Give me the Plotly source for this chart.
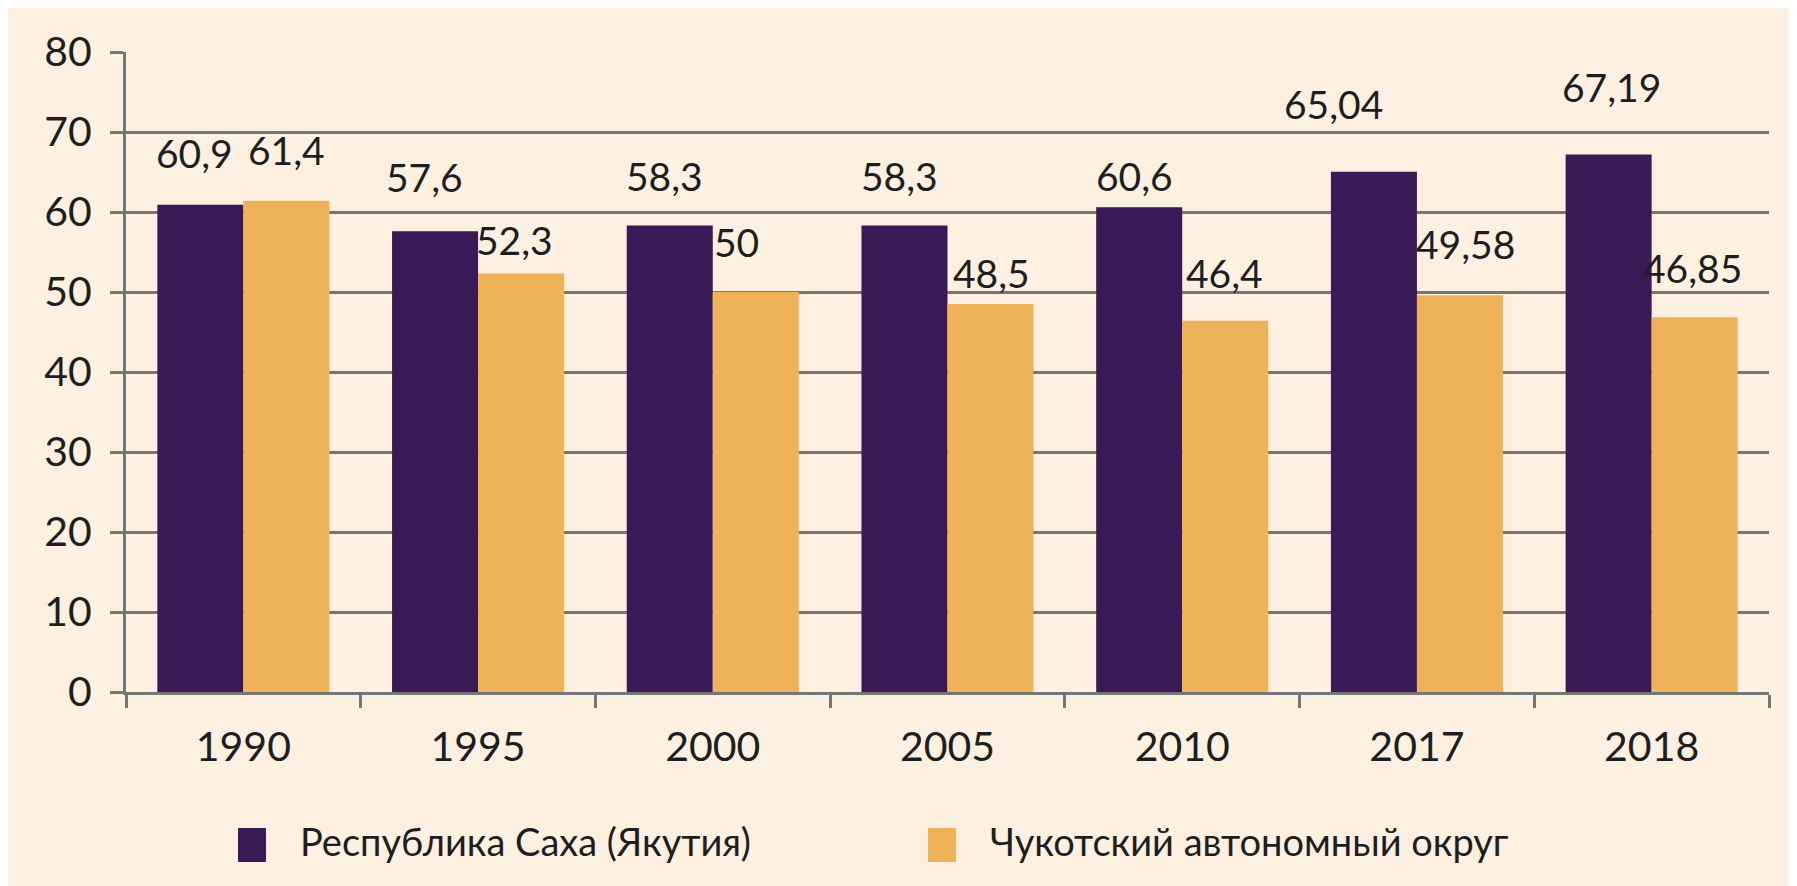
import plotly.graph_objects as go

years = ["1990", "1995", "2000", "2005", "2010", "2017", "2018"]
yakutia = [60.9, 57.6, 58.3, 58.3, 60.6, 65.04, 67.19]
chukotka = [61.4, 52.3, 50, 48.5, 46.4, 49.58, 46.85]
yakutia_text = ["60,9", "57,6", "58,3", "58,3", "60,6", "65,04", "67,19"]
chukotka_text = ["61,4", "52,3", "50", "48,5", "46,4", "49,58", "46,85"]
series_names = ["Республика Саха (Якутия)", "Чукотский автономный округ"]
y_ticks = [0, 10, 20, 30, 40, 50, 60, 70, 80]

# label placement (style): pixel lift above bar top, horizontal nudge
yak_lift = [52, 54, 50, 50, 31, 68, 67]
yak_dx = [-6, -11, -5, -5, -5, -40, 3]
chu_lift = [51, 34, 50, 31, 48, 51, 49]
chu_dx = [0, -7, -19, 1, -1, 6, -2]

DARK = "#3A1A56"
ORANGE = "#EFB258"
CREAM = "#FDF0E1"
GRID = "#767676"
TXT = "#1E1E1E"
FONT = "Lato"

bargap = 0.267
half = (1 - bargap) / 4

fig = go.Figure()
fig.add_trace(go.Bar(x=years, y=yakutia, name=series_names[0], marker=dict(color=DARK, line=dict(width=0)), showlegend=False))
fig.add_trace(go.Bar(x=years, y=chukotka, name=series_names[1], marker=dict(color=ORANGE, line=dict(width=0)), showlegend=False))

ann = []
for i in range(len(years)):
    ann.append(dict(x=i - half, y=yakutia[i], xref="x", yref="y", text=yakutia_text[i], showarrow=False,
                    yanchor="middle", yshift=yak_lift[i], xshift=yak_dx[i],
                    font=dict(family=FONT, size=39, color=TXT)))
    ann.append(dict(x=i + half, y=chukotka[i], xref="x", yref="y", text=chukotka_text[i], showarrow=False,
                    yanchor="middle", yshift=chu_lift[i], xshift=chu_dx[i],
                    font=dict(family=FONT, size=39, color=TXT)))

# page body has an 8px margin: the figure is placed at (8, 8) on the page
OFF = 8
W, H = 1797 - OFF, 886 - OFF
L, R, T, B = 126 - OFF, 28, 52 - OFF, 194
pw, ph = W - L - R, H - T - B
def px(xp):  # page x -> paper fraction
    return (xp - OFF - L) / pw
def py(yp):  # page y -> paper fraction
    return (H - B - (yp - OFF)) / ph

shapes = [
    dict(type="rect", xref="paper", yref="paper", x0=px(10), x1=px(1810), y0=py(900), y1=py(4),
         fillcolor=CREAM, line=dict(width=0), layer="below"),
    dict(type="rect", xref="paper", yref="paper", x0=px(238), x1=px(266), y0=py(862), y1=py(828),
         fillcolor=DARK, line=dict(width=0)),
    dict(type="rect", xref="paper", yref="paper", x0=px(928), x1=px(956), y0=py(862), y1=py(828),
         fillcolor=ORANGE, line=dict(width=0)),
]
ann.append(dict(xref="paper", yref="paper", x=px(298), y=py(841), xanchor="left", yanchor="middle",
                text=series_names[0], showarrow=False, font=dict(family=FONT, size=38, color=TXT)))
ann.append(dict(xref="paper", yref="paper", x=px(988), y=py(841), xanchor="left", yanchor="middle",
                text=series_names[1], showarrow=False, font=dict(family=FONT, size=38, color=TXT)))

fig.update_layout(
    width=W, height=H,
    margin=dict(l=L, r=R, t=T, b=B, pad=0, autoexpand=False),
    paper_bgcolor=CREAM, plot_bgcolor="rgba(0,0,0,0)",
    barmode="group", bargap=bargap, bargroupgap=0,
    showlegend=False,
    annotations=ann, shapes=shapes,
    font=dict(family=FONT, color=TXT),
)
fig.update_yaxes(range=[0, 80], tickvals=y_ticks, showgrid=True, gridcolor=GRID, gridwidth=2.5,
                 showline=True, linecolor=GRID, linewidth=3, ticks="outside", ticklen=13, tickcolor=GRID,
                 tickwidth=2.5, tickfont=dict(family=FONT, size=41, color=TXT), zeroline=False,
                 ticklabelstandoff=10, automargin=False)
fig.update_xaxes(showline=True, linecolor=GRID, linewidth=3, ticks="outside", tickson="boundaries",
                 ticklen=13, tickcolor=GRID, tickwidth=2.5, automargin=False,
                 tickfont=dict(family=FONT, size=41, color=TXT), ticklabelstandoff=17)

fig.write_html("out.html")
